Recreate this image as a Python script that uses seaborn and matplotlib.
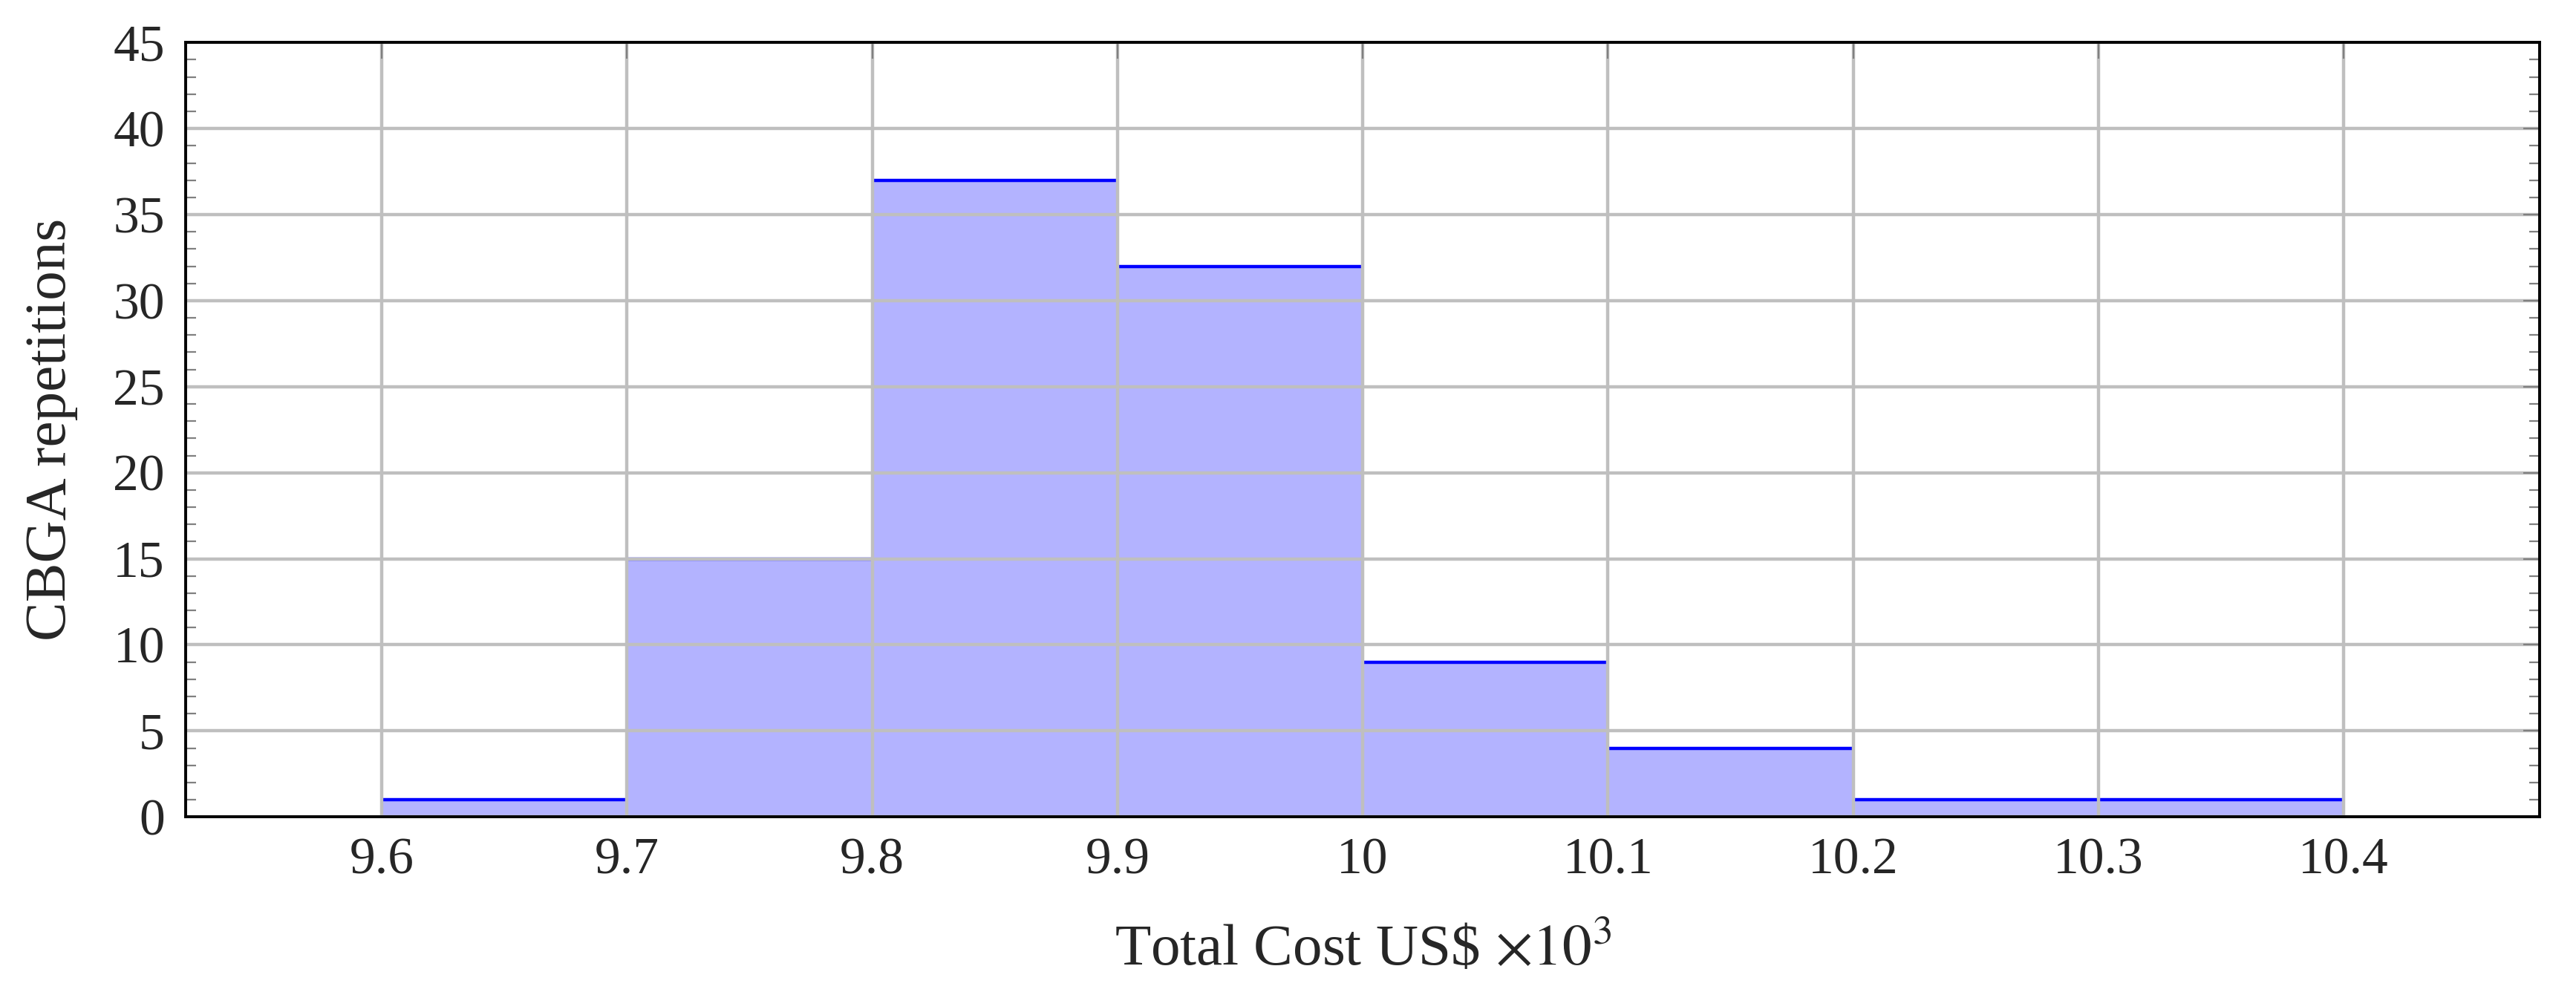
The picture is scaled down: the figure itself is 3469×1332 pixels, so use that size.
import numpy as np
import pandas as pd
import seaborn as sns
import matplotlib.pyplot as plt
from matplotlib.ticker import MultipleLocator

# histogram data (bin edges in US$ x10^3, counts per bin)
bin_edges = [9.6, 9.7, 9.8, 9.9, 10.0, 10.1, 10.2, 10.3, 10.4]
bin_counts = [1, 15, 37, 32, 9, 4, 1, 1]
x_ticks = [9.6, 9.7, 9.8, 9.9, 10.0, 10.1, 10.2, 10.3, 10.4]
x_tick_labels = ["9.6", "9.7", "9.8", "9.9", "10", "10.1", "10.2", "10.3", "10.4"]
y_ticks = [0, 5, 10, 15, 20, 25, 30, 35, 40, 45]

centers = [(a + b) / 2 for a, b in zip(bin_edges[:-1], bin_edges[1:])]
df = pd.DataFrame({"cost": centers, "count": bin_counts})

sns.set_style("white")
plt.rcParams["font.family"] = ["Liberation Serif", "DejaVu Serif"]
plt.rcParams["mathtext.fontset"] = "stix"

fig = plt.figure(figsize=(17.345, 6.66), dpi=200)
ax = fig.add_axes([0.072, 0.174, 0.914, 0.783])

sns.histplot(data=df, x="cost", weights="count", bins=bin_edges,
             color="#b3b3ff", alpha=1, linewidth=0, edgecolor="none", ax=ax, zorder=1)
# top edges of the bars only
ax.hlines(bin_counts, bin_edges[:-1], bin_edges[1:], colors="#0000ff", linewidth=1.6, zorder=2)

ax.set_xlim(9.52, 10.48)
ax.set_ylim(0, 45)
ax.set_xticks(x_ticks)
ax.set_xticklabels(x_tick_labels)
ax.set_yticks(y_ticks)
ax.yaxis.set_minor_locator(MultipleLocator(1))

ax.grid(True, which="major", color="#bfbfbf", linewidth=1.6, zorder=3)
ax.set_axisbelow(False)

ax.tick_params(axis="both", which="major", direction="in", length=8, width=0.8,
               color="#808080", labelsize=25, pad=10, top=True, right=True)
ax.tick_params(axis="y", which="minor", direction="in", length=5, width=0.8,
               color="#808080", left=True, right=True)

for s in ax.spines.values():
    s.set_color("black")
    s.set_linewidth(1.4)
    s.set_zorder(5)

ax.set_xlabel("Total Cost US\\$ $\\times10^3$", fontsize=28.5, labelpad=18)
ax.set_ylabel("CBGA repetitions", fontsize=28.5, labelpad=17)

fig.savefig("out.png", dpi=200, facecolor="white")
